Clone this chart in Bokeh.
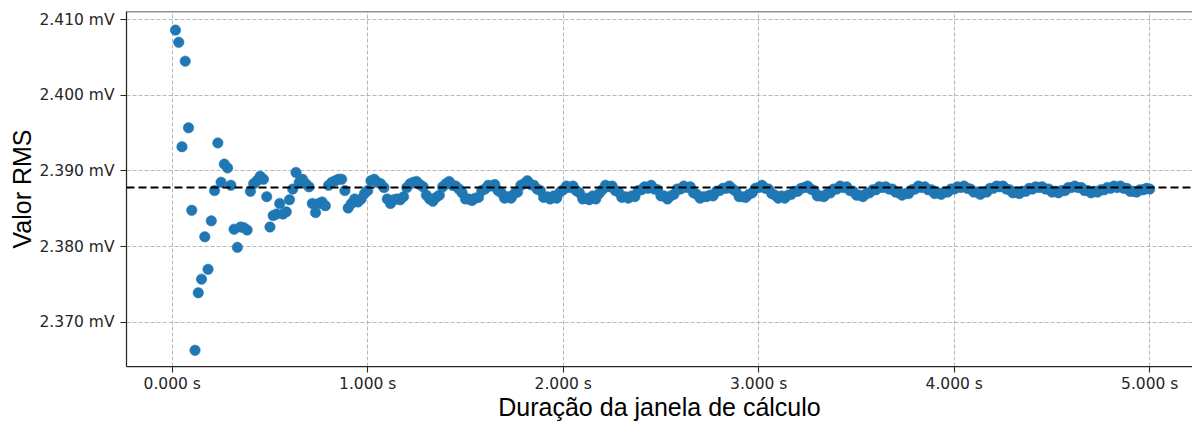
from bokeh.plotting import figure
from bokeh.models import Span, FixedTicker, PrintfTickFormatter, Range1d
from bokeh.embed import file_html
from bokeh.resources import INLINE

# Window lengths as whole numbers of 60 Hz cycles, converted to seconds
window_cycles = list(range(1, 301))
duration_s = [c / 60 for c in window_cycles]

# RMS value (mV) computed for each window length
rms_mv = [
    2.4086, 2.4070, 2.3932, 2.4045, 2.3957, 2.3848, 2.3663, 2.3739, 2.3757, 2.3813,
    2.3770, 2.3834, 2.3874, 2.3937, 2.3885, 2.3909, 2.3904, 2.3881, 2.3823, 2.3799,
    2.3826, 2.3825, 2.3822, 2.3873, 2.3883, 2.3887, 2.3893, 2.3889, 2.3866, 2.3826,
    2.3841, 2.3843, 2.3857, 2.3843, 2.3846, 2.3862, 2.3876, 2.3898, 2.3885, 2.3889,
    2.3883, 2.3879, 2.3857, 2.3845, 2.3857, 2.3859, 2.3854, 2.3881, 2.3885, 2.3887,
    2.3889, 2.3889, 2.3874, 2.3851, 2.3857, 2.3863, 2.3859, 2.3863, 2.3870, 2.3874,
    2.3887, 2.3889, 2.3885, 2.3883, 2.3878, 2.3863, 2.3857, 2.3862, 2.3863, 2.3862,
    2.3866, 2.3878, 2.3883, 2.3885, 2.3886, 2.3882, 2.3879, 2.3868, 2.3863, 2.3860,
    2.3865, 2.3868, 2.3879, 2.3883, 2.3886, 2.3881, 2.3880, 2.3876, 2.3871, 2.3863,
    2.3863, 2.3861, 2.3864, 2.3865, 2.3874, 2.3876, 2.3881, 2.3880, 2.3882, 2.3874,
    2.3871, 2.3864, 2.3866, 2.3864, 2.3870, 2.3872, 2.3881, 2.3883, 2.3887, 2.3882,
    2.3881, 2.3876, 2.3874, 2.3865, 2.3866, 2.3863, 2.3867, 2.3864, 2.3872, 2.3875,
    2.3880, 2.3878, 2.3880, 2.3874, 2.3871, 2.3863, 2.3864, 2.3862, 2.3867, 2.3863,
    2.3870, 2.3875, 2.3881, 2.3879, 2.3880, 2.3874, 2.3872, 2.3865, 2.3866, 2.3864,
    2.3867, 2.3866, 2.3874, 2.3875, 2.3879, 2.3877, 2.3881, 2.3876, 2.3875, 2.3867,
    2.3867, 2.3863, 2.3867, 2.3869, 2.3876, 2.3876, 2.3880, 2.3878, 2.3879, 2.3871,
    2.3869, 2.3864, 2.3866, 2.3866, 2.3868, 2.3867, 2.3873, 2.3874, 2.3877, 2.3877,
    2.3880, 2.3876, 2.3873, 2.3866, 2.3866, 2.3865, 2.3869, 2.3871, 2.3877, 2.3878,
    2.3881, 2.3877, 2.3876, 2.3870, 2.3868, 2.3864, 2.3867, 2.3864, 2.3868, 2.3869,
    2.3873, 2.3873, 2.3877, 2.3878, 2.3880, 2.3876, 2.3874, 2.3867, 2.3867, 2.3866,
    2.3870, 2.3871, 2.3876, 2.3876, 2.3880, 2.3878, 2.3879, 2.3874, 2.3873, 2.3868,
    2.3868, 2.3866, 2.3870, 2.3871, 2.3875, 2.3875, 2.3879, 2.3878, 2.3879, 2.3876,
    2.3876, 2.3872, 2.3871, 2.3868, 2.3870, 2.3870, 2.3875, 2.3876, 2.3880, 2.3878,
    2.3879, 2.3875, 2.3875, 2.3870, 2.3871, 2.3869, 2.3872, 2.3872, 2.3876, 2.3876,
    2.3879, 2.3878, 2.3880, 2.3877, 2.3876, 2.3872, 2.3872, 2.3869, 2.3872, 2.3872,
    2.3877, 2.3877, 2.3880, 2.3879, 2.3880, 2.3876, 2.3875, 2.3871, 2.3872, 2.3870,
    2.3873, 2.3873, 2.3877, 2.3876, 2.3879, 2.3878, 2.3879, 2.3876, 2.3876, 2.3872,
    2.3873, 2.3871, 2.3874, 2.3874, 2.3878, 2.3878, 2.3880, 2.3878, 2.3878, 2.3874,
    2.3874, 2.3871, 2.3873, 2.3872, 2.3875, 2.3875, 2.3878, 2.3877, 2.3880, 2.3878,
    2.3880, 2.3877, 2.3877, 2.3873, 2.3873, 2.3872, 2.3875, 2.3875, 2.3877, 2.3876,
]

reference_rms = 2.3878  # mV, dashed horizontal reference

y_ticks = [2.370, 2.380, 2.390, 2.400, 2.410]
x_ticks = [0.0, 1.0, 2.0, 3.0, 4.0, 5.0]

x_lo, x_hi = -0.2338, 5.2189
y_lo, y_hi = 2.36416, 2.41106

p = figure(
    width=1192, height=425,
    output_backend="svg", toolbar_location=None,
    x_range=Range1d(x_lo, x_hi), y_range=Range1d(y_lo, y_hi),
    min_border_left=126, min_border_right=0,
    min_border_top=11, min_border_bottom=59,
)
p.outline_line_color = None
p.background_fill_color = "white"
p.border_fill_color = "white"

# grid
for g in (p.xgrid, p.ygrid):
    g.grid_line_color = "#b0b0b0"
    g.grid_line_width = 0.9
    g.grid_line_dash = "4 2"

# axes
tick_font = "DejaVu Sans"
for ax in (p.xaxis, p.yaxis):
    ax.axis_line_color = "#262626"
    ax.axis_line_width = 1.25
    ax.major_tick_line_color = "#262626"
    ax.major_tick_line_width = 1.1
    ax.major_tick_in = 0
    ax.major_tick_out = 6
    ax.minor_tick_line_color = None
    ax.major_label_text_font = tick_font
    ax.major_label_text_font_size = "15.5px"
    ax.major_label_text_color = "#262626"
    ax.axis_label_text_font = "Liberation Sans"
    ax.axis_label_text_font_size = "25px"
    ax.axis_label_text_font_style = "normal"
    ax.axis_label_text_color = "black"

p.yaxis.ticker = FixedTicker(ticks=y_ticks)
p.xaxis.ticker = FixedTicker(ticks=x_ticks)
p.yaxis.formatter = PrintfTickFormatter(format="%.3f mV")
p.xaxis.formatter = PrintfTickFormatter(format="%.3f s")
p.yaxis.major_label_standoff = 6
p.xaxis.major_label_standoff = 2
p.yaxis.axis_label = "Valor RMS"
p.xaxis.axis_label = "Duração da janela de cálculo"
p.yaxis.axis_label_standoff = 0
p.xaxis.axis_label_standoff = -3

# top frame edge
p.add_layout(Span(location=y_hi, dimension="width", line_color="#262626", line_width=1.25))

# measured RMS values
p.scatter(duration_s, rms_mv, size=10.5, marker="circle",
          fill_color="#1f77b4", line_color="#1f77b4", line_alpha=0.5, line_width=1.0)

# reference value
p.add_layout(Span(location=reference_rms, dimension="width",
                  line_color="black", line_width=2, line_dash="8 4"))

open("out.html", "w").write(file_html(p, INLINE))
